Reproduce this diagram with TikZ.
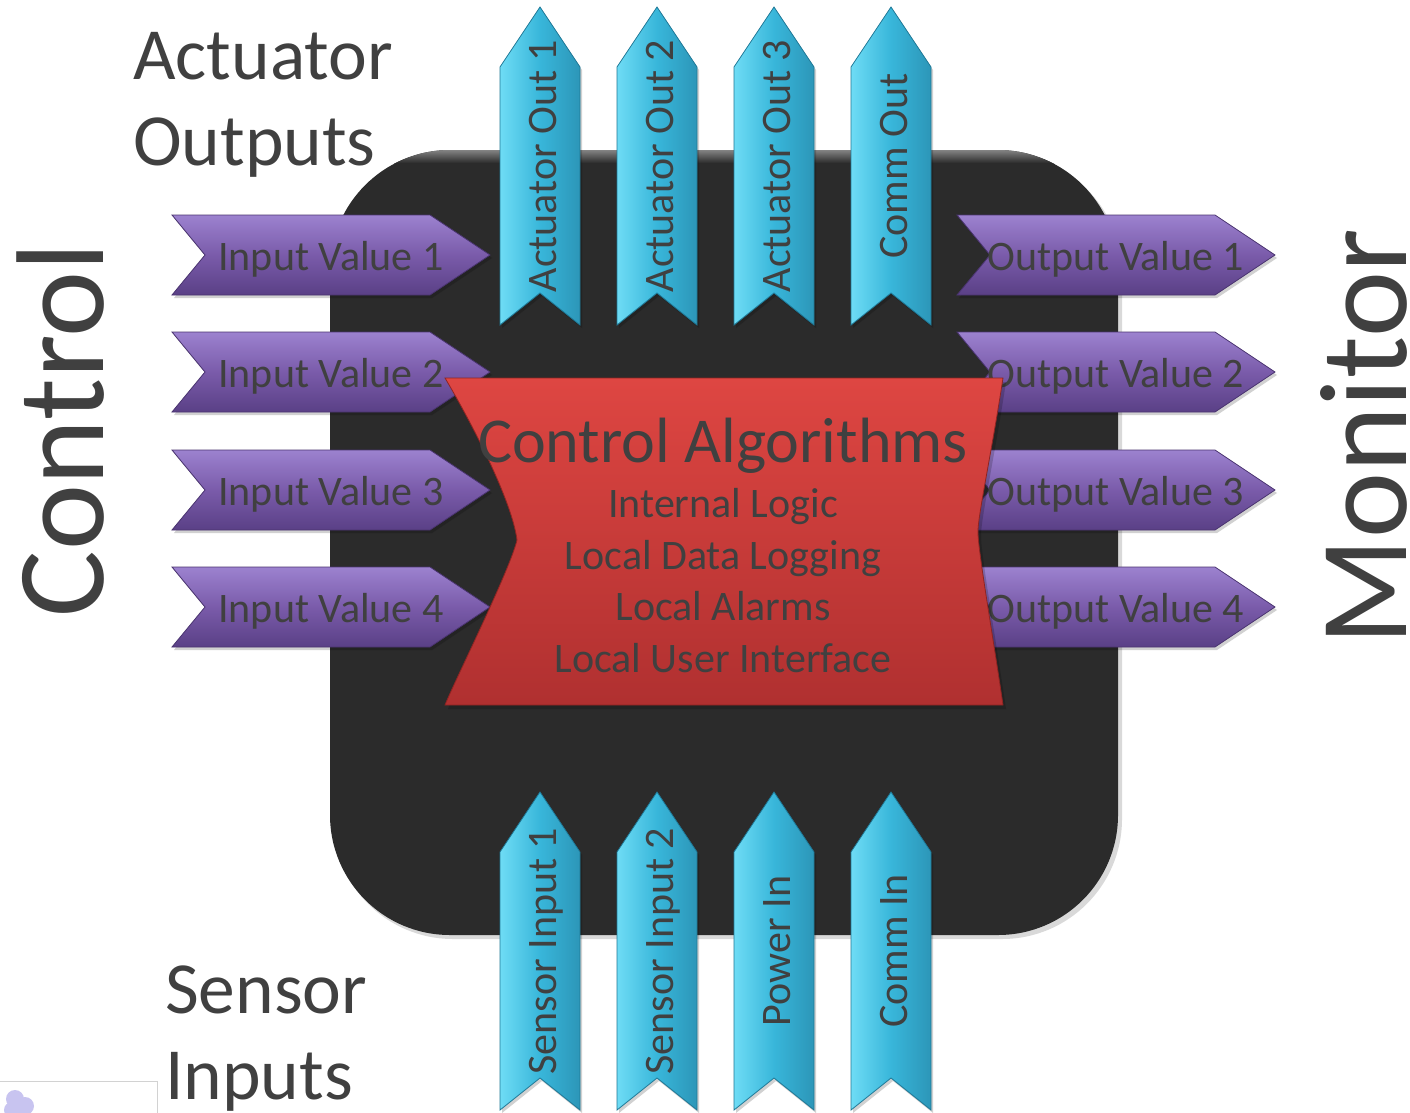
\documentclass[tikz,border=0pt]{standalone}
\usepackage{fontspec}
\setmainfont{Carlito}
\definecolor{txt}{HTML}{404040}
\definecolor{chip}{HTML}{2B2B2B}
\definecolor{chiprim}{HTML}{8A8A8A}
\definecolor{purpT}{HTML}{9C82CF}
\definecolor{purpM}{HTML}{7A5BAA}
\definecolor{purpB}{HTML}{5A4086}
\definecolor{purpE}{HTML}{4A3470}
\definecolor{cyanL}{HTML}{6EDCF5}
\definecolor{cyanM}{HTML}{38B6DA}
\definecolor{cyanR}{HTML}{2C96B8}
\definecolor{cyanE}{HTML}{1F7896}
\definecolor{redT}{HTML}{DE4642}
\definecolor{redB}{HTML}{B03030}
\definecolor{redE}{HTML}{8E2422}
\definecolor{blob}{HTML}{C8C4F0}

\tikzset{
  hribbon/.style={top color=purpT, bottom color=purpB, middle color=purpM,
    draw=purpE, line width=0.8pt},
  vribbon/.style={left color=cyanL, right color=cyanR, middle color=cyanM,
    draw=cyanE, line width=0.8pt},
  softshadow/.style={fill=black, opacity=0.18},
  ribbontext/.style={font=\fontsize{42}{42}\selectfont, text=txt,
    inner sep=0pt, anchor=base},
  bigtitle/.style={font=\fontsize{125}{125}\selectfont, text=txt,
    inner sep=0pt, anchor=base, rotate=90},
  sidetitle/.style={font=\fontsize{73.5}{73.5}\selectfont, text=txt,
    inner sep=0pt, anchor=base west},
  coretitle/.style={font=\fontsize{64}{64}\selectfont, text=txt,
    inner sep=0pt, anchor=base},
  coreline/.style={font=\fontsize{42}{42}\selectfont, text=txt,
    inner sep=0pt, anchor=base},
}

% horizontal ribbon pointing right: name, left x, centre y, label
\newcommand\sideribbon[4]{%
  \fill[softshadow] (#2+2,#3-37) -- (#2+260,#3-37) -- (#2+320,#3+3)
    -- (#2+260,#3+43) -- (#2+2,#3+43) -- (#2+35,#3+3) -- cycle;
  \shade[hribbon] (#2,#3-40) -- (#2+258,#3-40) -- (#2+318,#3)
    -- (#2+258,#3+40) -- (#2,#3+40) -- (#2+33,#3) -- cycle;
  \node[ribbontext] (#1) at (#2+159,#3+15) {#4};
}

% vertical ribbon pointing up: name, centre x, tip y, label
\newcommand\upribbon[4]{%
  \fill[softshadow] (#2+2,#3+3) -- (#2+42,#3+63) -- (#2+42,#3+321)
    -- (#2+2,#3+289) -- (#2-38,#3+321) -- (#2-38,#3+63) -- cycle;
  \shade[vribbon] (#2,#3) -- (#2+40,#3+60) -- (#2+40,#3+318)
    -- (#2,#3+286) -- (#2-40,#3+318) -- (#2-40,#3+60) -- cycle;
  \node[ribbontext, rotate=90] (#1) at (#2+16,#3+159) {#4};
}

\begin{document}
\begin{tikzpicture}[x=1pt, y=-1pt]
\useasboundingbox (0,0) rectangle (1410,1113);
\fill[white] (0,0) rectangle (1410,1113);

% edge of a neighbouring frame in the corner
\draw[gray!35, line width=1pt] (-2,1081) -- (157,1081) -- (157,1116);
\fill[blob] (15,1099) circle (9);
\fill[blob] (25,1106) circle (9);
\fill[blob] (12,1110) circle (8);

% the controller body
\fill[black, opacity=0.15, rounded corners=120] (333,154) rectangle (1122,939);
\fill[chip, rounded corners=120] (330,150) rectangle (1118,935);
\begin{scope}
  \clip[rounded corners=120] (330,150) rectangle (1118,935);
  \shade[top color=chiprim, bottom color=chip] (330,149) rectangle (1118,163);
\end{scope}

% left and right value ribbons
\sideribbon{in1}{172}{255}{Input Value 1}
\sideribbon{in2}{172}{372}{Input Value 2}
\sideribbon{in3}{172}{490}{Input Value 3}
\sideribbon{in4}{172}{607}{Input Value 4}
\sideribbon{out1}{957}{255}{Output Value 1}
\sideribbon{out2}{957}{372}{Output Value 2}
\sideribbon{out3}{957}{490}{Output Value 3}
\sideribbon{out4}{957}{607}{Output Value 4}

% top and bottom ribbons
\upribbon{act1}{540}{7}{Actuator Out 1}
\upribbon{act2}{657}{7}{Actuator Out 2}
\upribbon{act3}{774}{7}{Actuator Out 3}
\upribbon{commout}{891}{7}{Comm Out}
\upribbon{sens1}{540}{792}{Sensor Input 1}
\upribbon{sens2}{657}{792}{Sensor Input 2}
\upribbon{power}{774}{792}{Power In}
\upribbon{commin}{891}{792}{Comm In}

% central algorithm banner
\fill[softshadow] (448,382) -- (1006,382)
  .. controls (995,454) and (982,514) .. (981,534)
  .. controls (980,549) and (995,634) .. (1006,709)
  -- (448,709) .. controls (458,684) and (513,574) .. (520,544)
  .. controls (515,504) and (473,424) .. (448,382) -- cycle;
\shade[top color=redT, bottom color=redB, draw=redE, line width=0.8pt]
  (445,378) -- (1003,378)
  .. controls (992,450) and (979,510) .. (978,530)
  .. controls (977,545) and (992,630) .. (1003,705)
  -- (445,705) .. controls (455,680) and (510,570) .. (517,540)
  .. controls (512,500) and (470,420) .. (445,378) -- cycle;

\node[coretitle] (core) at (723,462) {Control Algorithms};
\node[coreline] (logic) at (723,517) {Internal Logic};
\node[coreline] (logging) at (723,569) {Local Data Logging};
\node[coreline] (alarms) at (723,620) {Local Alarms};
\node[coreline] (ui) at (723,672) {Local User Interface};

% group captions
\node[sidetitle] (actA) at (133,80) {Actuator};
\node[sidetitle] (actB) at (133,165) {Outputs};
\node[sidetitle] (senA) at (165,1013) {Sensor};
\node[sidetitle] (senB) at (165,1099) {Inputs};
\node[bigtitle] (control) at (103,430) {Control};
\node[bigtitle] (monitor) at (1406,437) {Monitor};
\end{tikzpicture}
\end{document}
